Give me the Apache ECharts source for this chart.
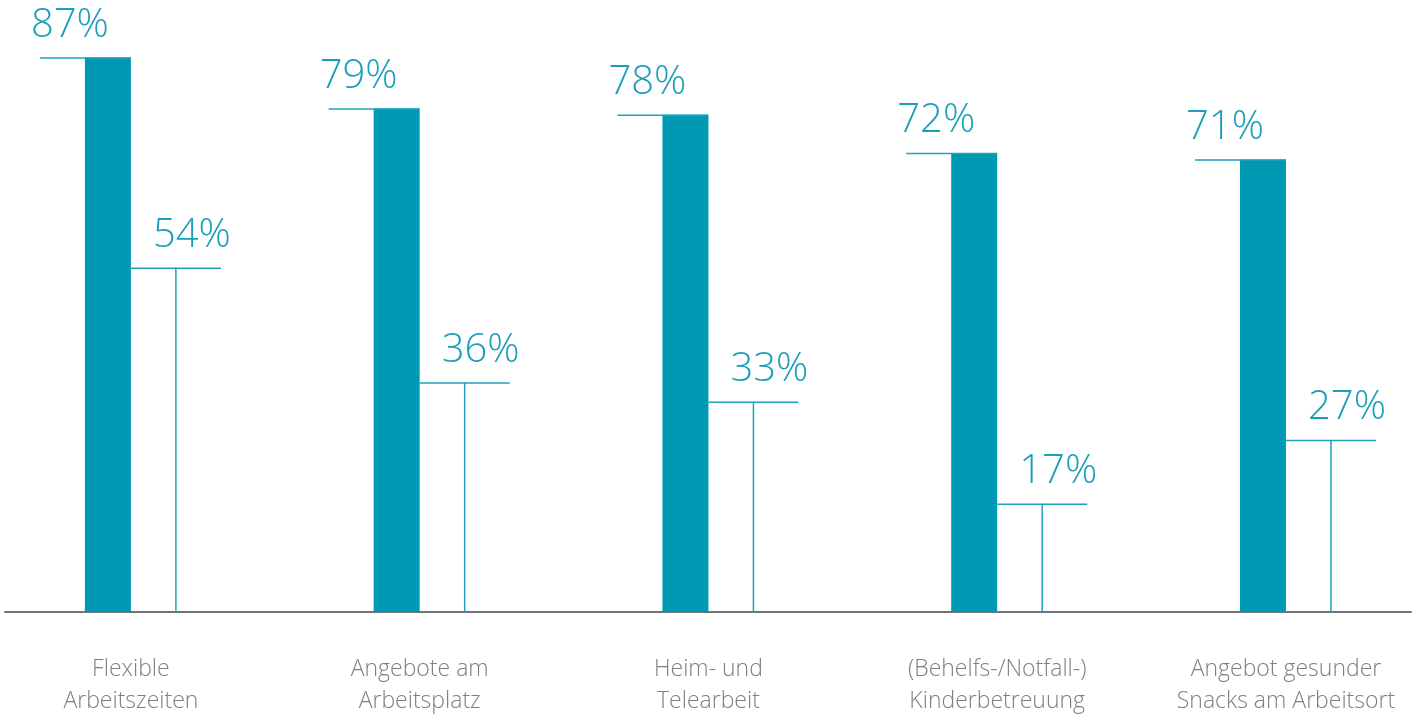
<!DOCTYPE html>
<html>
<head>
<meta charset="utf-8">
<style>
  html, body { margin: 0; padding: 0; background: #ffffff; }
  #chart { width: 1416px; height: 717px; }
</style>
<script src="https://cdn.jsdelivr.net/npm/echarts@6/dist/echarts.min.js"></script>
</head>
<body>
<div id="chart"></div>
<script>
// Kategorien und Anteile (in %)
const categories = [
  'Flexible\nArbeitszeiten',
  'Angebote am\nArbeitsplatz',
  'Heim- und\nTelearbeit',
  '(Behelfs-/Notfall-)\nKinderbetreuung',
  'Angebot gesunder\nSnacks am Arbeitsort'
];
const valuesPrimary = [87, 79, 78, 72, 71];
const valuesSecondary = [54, 36, 33, 17, 27];

const TEAL = '#0099b3';
const LINE = '#1fa3bb';
const LABEL = '#1a9fb8';
const FONT = '"Open Sans", "Noto Sans", sans-serif';

const BAR_W = 46;      // Breite des gefüllten Balkens
const CAP_W = 90;      // Länge der waagrechten Linie am Balkenkopf
const LABEL_DX = 61;   // Abstand der Wertbeschriftung von der Kategoriemitte

// Kategorie-Positionen auf einer numerischen x-Achse (0 … n-1),
// mit etwas Rand links und rechts
const X_MIN = -0.436;
const X_MAX = 4.433;

function valueText(x, y, v) {
  return {
    type: 'text',
    style: {
      x: x, y: y,
      text: v + '%',
      fill: LABEL,
      font: '300 40px ' + FONT,
      align: 'center',
      verticalAlign: 'bottom'
    }
  };
}

// gefüllter Balken mit Kopflinie nach links
function renderPrimary(params, api) {
  const idx = api.value(0);
  const v = api.value(1);
  const top = api.coord([idx, v]);
  const base = api.coord([idx, 0]);
  const cx = top[0];
  return {
    type: 'group',
    children: [
      {
        type: 'rect',
        shape: { x: cx - BAR_W, y: top[1], width: BAR_W, height: base[1] - top[1] },
        style: { fill: TEAL }
      },
      {
        type: 'line',
        shape: { x1: cx - CAP_W - 1, y1: top[1] + 0.5, x2: cx, y2: top[1] + 0.5 },
        style: { stroke: LINE, lineWidth: 1.5 }
      },
      valueText(cx - LABEL_DX, top[1] - 12, v)
    ]
  };
}

// offener Balken: Kopflinie nach rechts und senkrechte Mittellinie
function renderSecondary(params, api) {
  const idx = api.value(0);
  const v = api.value(1);
  const top = api.coord([idx, v]);
  const base = api.coord([idx, 0]);
  const cx = top[0];
  const mid = cx + CAP_W / 2;
  return {
    type: 'group',
    children: [
      {
        type: 'line',
        shape: { x1: cx, y1: top[1] + 0.5, x2: cx + CAP_W, y2: top[1] + 0.5 },
        style: { stroke: LINE, lineWidth: 1.5 }
      },
      {
        type: 'line',
        shape: { x1: mid, y1: top[1], x2: mid, y2: base[1] },
        style: { stroke: LINE, lineWidth: 1.5 }
      },
      valueText(cx + LABEL_DX, top[1] - 12, v)
    ]
  };
}

const chart = echarts.init(document.getElementById('chart'), null, { renderer: 'canvas' });

chart.setOption({
  backgroundColor: '#ffffff',
  animation: false,
  grid: { left: 5, right: 5, top: 0, bottom: 103, containLabel: false },
  xAxis: {
    type: 'value',
    min: X_MIN,
    max: X_MAX,
    axisLine: { show: true, onZero: false, lineStyle: { color: '#6e7478', width: 2 } },
    axisTick: { show: false },
    splitLine: { show: false },
    axisLabel: {
      customValues: categories.map((c, i) => i),
      formatter: (val) => categories[Math.round(val)] || '',
      showMinLabel: true,
      showMaxLabel: true,
      hideOverlap: false,
      margin: 41,
      color: '#7f7f7f',
      fontFamily: FONT,
      fontWeight: 300,
      fontSize: 23,
      lineHeight: 32
    }
  },
  yAxis: {
    type: 'value',
    min: 0, max: 96,
    show: false,
    splitLine: { show: false }
  },
  series: [
    {
      type: 'custom',
      name: 'Primär',
      renderItem: renderPrimary,
      data: valuesPrimary.map((v, i) => [i, v])
    },
    {
      type: 'custom',
      name: 'Sekundär',
      renderItem: renderSecondary,
      data: valuesSecondary.map((v, i) => [i, v])
    }
  ]
});
</script>
</body>
</html>
